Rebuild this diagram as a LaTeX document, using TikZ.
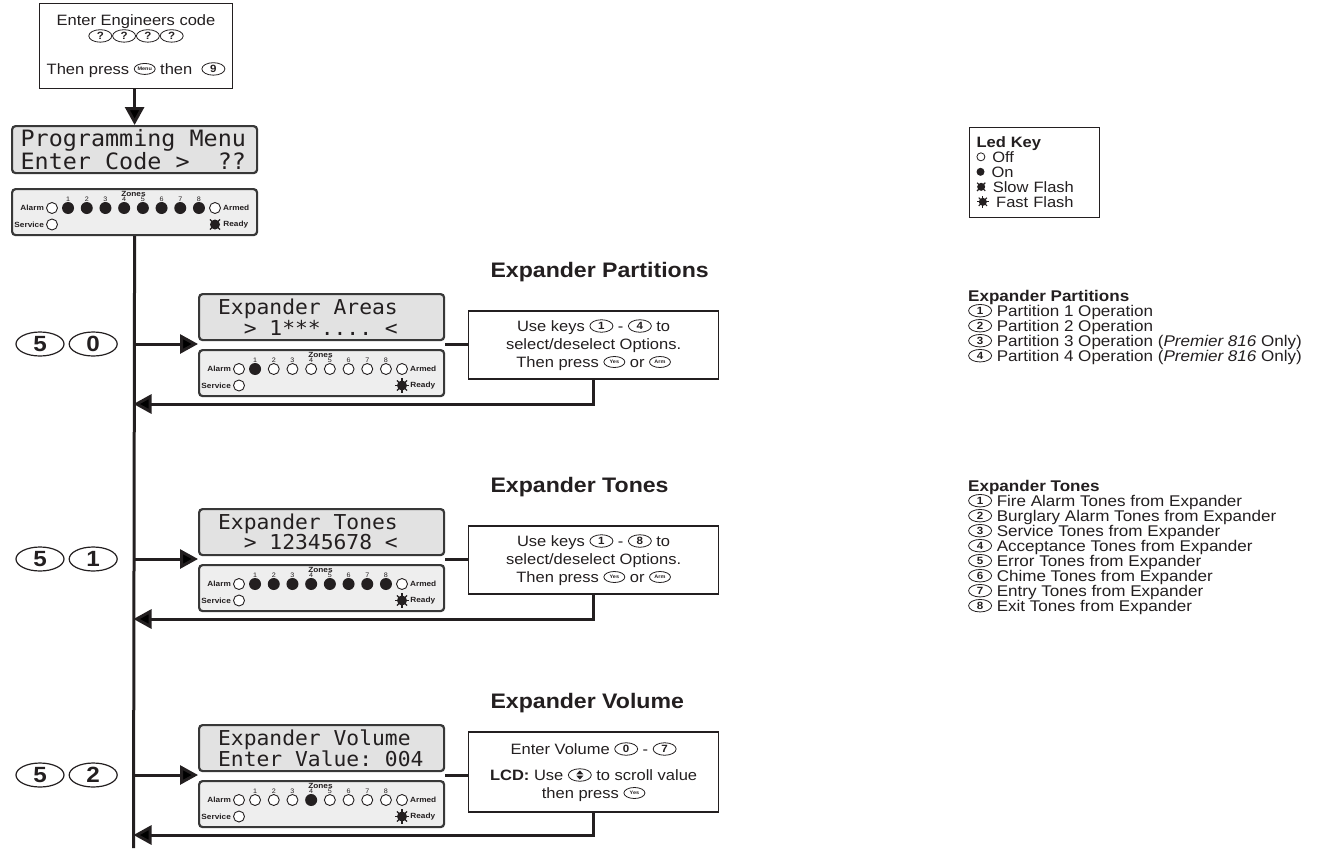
\documentclass[tikz,border=0pt]{standalone}
\usepackage{fontspec}
\setmainfont{Liberation Sans}[FakeStretch=1.1]
\newfontfamily\lcdfont[FakeStretch=1.04]{DejaVu Sans Mono}
\usepackage{tikz}
\usetikzlibrary{arrows.meta,positioning,calc,shapes.geometric}
\definecolor{pnInk}{HTML}{231F20}
\definecolor{pnLcd}{HTML}{E2E2E2}
\definecolor{pnPanel}{HTML}{EEEEEE}
\definecolor{pnFrame}{HTML}{383838}
\newcommand\bodyfont{\fontsize{15}{18}\selectfont}
\newcommand\listfont{\fontsize{15.5}{15}\selectfont\lineskiplimit=-20pt\relax}
\newcommand\keyfont{\fontsize{15}{15}\selectfont\lineskiplimit=-20pt\relax}
\newcommand\lsp{\hphantom{0}}
\tikzset{
  flow line/.style={line width=3pt,draw=pnInk},
  flow arrow/.style={flow line,-{Triangle[length=18pt,width=19pt]}},
  info box/.style={draw=pnInk,line width=1.2pt,fill=white,align=center,font=\bodyfont,inner sep=5pt,text=pnInk},
  lcd box/.style={draw=pnFrame,line width=2.2pt,rounded corners=3.5pt,fill=pnLcd,text=pnInk,
    text width=207pt,align=left,inner xsep=19pt,minimum height=46pt,
    font=\lcdfont\fontsize{20.5}{19}\selectfont},
  led panel/.style={draw=pnFrame,line width=2.2pt,rounded corners=3.5pt,fill=pnPanel,
    minimum width=245pt,minimum height=46pt,inner sep=0pt},
  panel text/.style={font=\bfseries\fontsize{7.5}{8}\selectfont,inner sep=0.5pt,text=pnInk},
  glyph/.style={anchor=center,text width=,inner sep=0pt},
  led off/.style={glyph,circle,draw=pnInk,line width=0.9pt,fill=white,minimum size=11pt},
  led on/.style={glyph,circle,fill=pnInk,minimum size=12pt},
  key glyph/.style={glyph,ellipse,draw=pnInk,line width=0.8pt,fill=white,
    minimum width=23pt,minimum height=12.5pt,font=\bfseries\fontsize{10.5}{10.5}\selectfont},
  tiny key/.style={key glyph,minimum width=21pt,minimum height=11pt,font=\bfseries\fontsize{5}{5}\selectfont},
  big key/.style={ellipse,draw=pnInk,line width=1.2pt,inner sep=0pt,minimum width=48pt,
    minimum height=24pt,font=\bfseries\fontsize{22}{22}\selectfont,text=pnInk},
  section title/.style={font=\bfseries\fontsize{21}{21}\selectfont,text=pnInk},
  list text/.style={anchor=north west,align=left,inner sep=0pt,text=pnInk,font=\listfont}
}
\newcommand\keycap[1]{\tikz[baseline=-0.7ex]\node[key glyph]{#1};}
\newcommand\tinykey[1]{\tikz[baseline=-0.7ex]\node[tiny key]{#1};}
\newcommand\scrollkey{\tikz[baseline=-0.7ex]{\node[key glyph]{};
  \fill[pnInk] (-3.5pt,0.7pt) -- (3.5pt,0.7pt) -- (0pt,4.6pt) -- cycle;
  \fill[pnInk] (-3.5pt,-0.7pt) -- (3.5pt,-0.7pt) -- (0pt,-4.6pt) -- cycle;}}
\newcommand\flashrays[4]{\foreach \a in {#2} \draw[pnInk,line width=1.1pt] (#1.center) ++(\a:#3) -- ++(\a:#4);}
\newcommand\ledglyph[1]{\tikz[baseline=-0.7ex]\node[led #1,minimum size=8pt,line width=0.8pt]{};}
\newcommand\flashglyph[1]{\tikz[baseline=-0.7ex]{\node[led on,minimum size=8pt] (fg) {};\flashrays{fg}{#1}{3pt}{2.8pt}}}
\newcommand\ledpanel[4]{%
  \node[led panel,anchor=north west] (#1) at #2 {};
  \node[panel text] (#1-zones) at ($(#1.north west)+(122.5,5.5)$) {Zones};
  \foreach \s [count=\i] in {#3} {
    \node[panel text,font=\fontsize{6.5}{6.5}\selectfont] (#1-n\i) at ($(#1.north west)+(38.35+18.7*\i,11.5)$) {\i};
    \node[led \s] (#1-z\i) at ($(#1.north west)+(38.35+18.7*\i,20)$) {};
  }
  \node[led off] (#1-alarm) at ($(#1.north west)+(41,20)$) {};
  \node[panel text,left=1.5pt of #1-alarm] {Alarm};
  \node[led off] (#1-armed) at ($(#1.north west)+(204,20)$) {};
  \node[panel text,right=1.5pt of #1-armed] {Armed};
  \node[led off] (#1-service) at ($(#1.north west)+(41,36.5)$) {};
  \node[panel text,left=1.5pt of #1-service] {Service};
  \node[led on,minimum size=10pt] (#1-ready) at ($(#1.north west)+(204,36.5)$) {};
  \flashrays{#1-ready}{#4}{4pt}{3.2pt}
  \node[panel text,right=2.5pt of #1-ready] {Ready};
}
\begin{document}
\begin{tikzpicture}[x=1pt,y=-1pt]
\useasboundingbox (0,0) rectangle (1321,854);

\node[info box,anchor=north,minimum width=193pt,minimum height=85pt,inner ysep=3pt] (entry) at (136,3)
  {Enter Engineers code\\[-2pt]
   \keycap{?}\keycap{?}\keycap{?}\keycap{?}\\[15pt]
   Then press \tinykey{Menu} then \ \keycap{9}};
\node[lcd box,anchor=north west,text width=228pt,inner xsep=8.5pt,
  font=\lcdfont\fontsize{22.5}{19}\selectfont] (menu) at (11,125)
  {Programming\lsp Menu\\Enter\lsp Code\lsp>\lsp\lsp??};
\ledpanel{menuleds}{(11,188)}{on,on,on,on,on,on,on,on}{45,135,225,315}
\coordinate (spineend) at (133.5,848);
\draw[flow arrow] (entry.south -| menu.north) -- (menu.north);
\draw[flow line] (menuleds.south) -- (spineend);

% partitions
\node[section title,anchor=west] (parttitle) at (487,272) {Expander Partitions};
\node[lcd box,anchor=north west] (partlcd) at (198,293) {Expander\lsp Areas\\\lsp\lsp>\lsp1***....\lsp<};
\ledpanel{partleds}{(198,349)}{on,off,off,off,off,off,off,off}{0,45,90,135,180,225,270,315}
\coordinate (parttap) at (133.5,344);
\coordinate (partback) at (133.5,404);
\node[big key] (partk1) at (40,344) {5};
\node[big key,right=4pt of partk1] (partk2) {0};
\node[info box,anchor=west,minimum width=250pt,minimum height=68pt] (partopts) at (468,345)
  {Use keys \keycap{1} - \keycap{4} to\\select/deselect Options.\\Then press \tinykey{Yes} or \tinykey{Arm}};
\draw[flow arrow] (parttap) -- (parttap -| partlcd.west);
\draw[flow line] (parttap -| partlcd.east) -- (parttap -| partopts.west);
\draw[flow arrow] (partopts.south) |- (partback);

% tones
\node[section title,anchor=west] (tonetitle) at (487,487) {Expander Tones};
\node[lcd box,anchor=north west] (tonelcd) at (198,508) {Expander\lsp Tones\\\lsp\lsp>\lsp12345678\lsp<};
\ledpanel{toneleds}{(198,564)}{on,on,on,on,on,on,on,on}{0,45,90,135,180,225,270,315}
\coordinate (tonetap) at (133.5,559);
\coordinate (toneback) at (133.5,619);
\node[big key] (tonek1) at (40,559) {5};
\node[big key,right=4pt of tonek1] (tonek2) {1};
\node[info box,anchor=west,minimum width=250pt,minimum height=68pt] (toneopts) at (468,560)
  {Use keys \keycap{1} - \keycap{8} to\\select/deselect Options.\\Then press \tinykey{Yes} or \tinykey{Arm}};
\draw[flow arrow] (tonetap) -- (tonetap -| tonelcd.west);
\draw[flow line] (tonetap -| tonelcd.east) -- (tonetap -| toneopts.west);
\draw[flow arrow] (toneopts.south) |- (toneback);

% volume
\node[section title,anchor=west] (voltitle) at (487,703) {Expander Volume};
\node[lcd box,anchor=north west] (vollcd) at (198,724) {Expander\lsp Volume\\Enter\lsp Value:\lsp004};
\ledpanel{volleds}{(198,780)}{off,off,off,on,off,off,off,off}{0,45,90,135,180,225,270,315}
\coordinate (voltap) at (133.5,775);
\coordinate (volback) at (133.5,835);
\node[big key] (volk1) at (40,775) {5};
\node[big key,right=4pt of volk1] (volk2) {2};
\node[info box,anchor=west,minimum width=250pt,minimum height=80pt] (volopts) at (468,772)
  {Enter Volume \keycap{0} - \keycap{7}\\[8pt]\textbf{LCD:} Use \scrollkey\ to scroll value\\then press \tinykey{Yes}};
\draw[flow arrow] (voltap) -- (voltap -| vollcd.west);
\draw[flow line] (voltap -| vollcd.east) -- (voltap -| volopts.west);
\draw[flow arrow] (volopts.south) |- (volback);

% key and option lists
\node[info box,anchor=north west,align=left,line width=1pt,minimum width=130pt,text width=116pt,
  inner xsep=7pt,inner ysep=9pt,font=\keyfont] (ledkey) at (969,127)
  {\textbf{Led Key}\\
   \ledglyph{off}\hspace{7pt}Off\\
   \ledglyph{on}\hspace{7pt}On\\
   \flashglyph{45,135,225,315}\hspace{7pt}Slow Flash\\
   \flashglyph{0,45,90,135,180,225,270,315}\hspace{7pt}Fast Flash};
\node[list text] (partlist) at (968,290)
  {\textbf{Expander Partitions}\\
   \keycap{1} Partition 1 Operation\\
   \keycap{2} Partition 2 Operation\\
   \keycap{3} Partition 3 Operation (\textit{Premier 816} Only)\\
   \keycap{4} Partition 4 Operation (\textit{Premier 816} Only)};
\node[list text] (tonelist) at (968,480)
  {\textbf{Expander Tones}\\
   \keycap{1} Fire Alarm Tones from Expander\\
   \keycap{2} Burglary Alarm Tones from Expander\\
   \keycap{3} Service Tones from Expander\\
   \keycap{4} Acceptance Tones from Expander\\
   \keycap{5} Error Tones from Expander\\
   \keycap{6} Chime Tones from Expander\\
   \keycap{7} Entry Tones from Expander\\
   \keycap{8} Exit Tones from Expander};
\end{tikzpicture}
\end{document}
